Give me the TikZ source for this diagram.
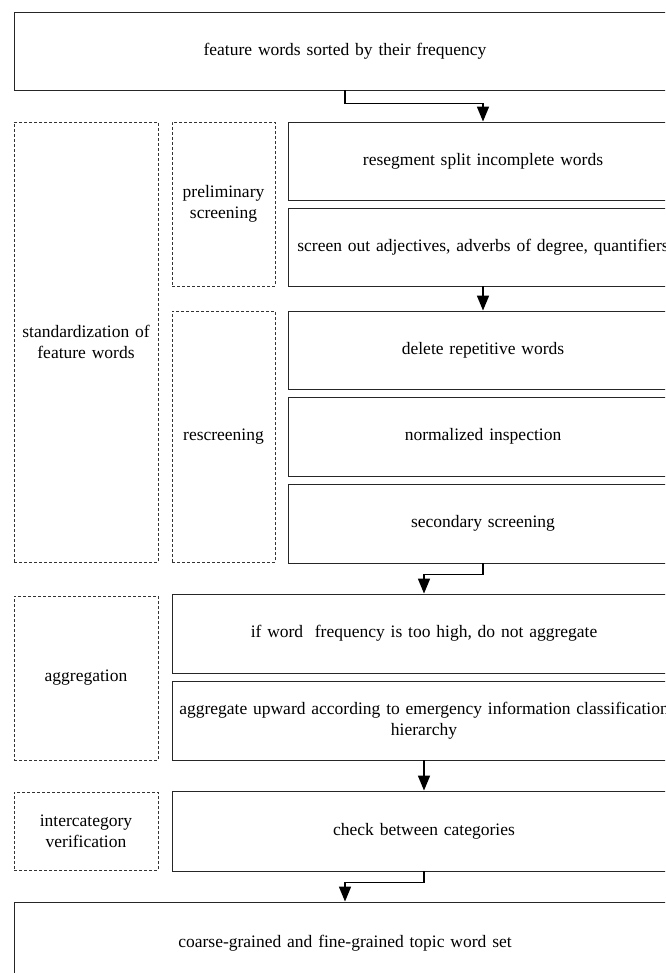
\documentclass[tikz,border=0pt]{standalone}
\usepackage{fontspec}
\setmainfont{Liberation Serif}
\usetikzlibrary{arrows.meta}
\begin{document}
\begin{tikzpicture}[x=1pt,y=-1pt,
  txt/.style={font=\fontsize{17.5}{21}\selectfont, align=center, inner sep=0pt},
  box/.style={txt, draw=black!85, line width=0.9pt, rectangle},
  dbox/.style={txt, draw=black!80, line width=0.8pt, dash pattern=on 3pt off 2pt, rectangle},
  flow/.style={-{Triangle[width=12pt,length=15pt]}, line width=1.6pt, black}
]
\useasboundingbox (0,0) rectangle (665,973);
\clip (0,0) rectangle (665,973);
\fill[white] (0,0) rectangle (665,973);

% main column boxes
\node[box, minimum width=662pt, minimum height=78pt, text width=662pt] (top) at (345,51) {feature words sorted by their frequency};
\node[box, minimum width=390pt, minimum height=78pt, text width=390pt] (r1) at (483,161) {resegment split incomplete words};
\node[box, minimum width=390pt, minimum height=78pt, text width=390pt] (r2) at (483,247) {screen out adjectives, adverbs of degree, quantifiers};
\node[box, minimum width=390pt, minimum height=78pt, text width=390pt] (r3) at (483,350) {delete repetitive words};
\node[box, minimum width=390pt, minimum height=79pt, text width=390pt] (r4) at (483,436.5) {normalized inspection};
\node[box, minimum width=390pt, minimum height=79pt, text width=390pt] (r5) at (483,523.5) {secondary screening};
\node[box, minimum width=504pt, minimum height=79pt, text width=504pt] (a1) at (424,633.5) {if word\ \ frequency is too high, do not aggregate};
\node[box, minimum width=504pt, minimum height=79pt, text width=504pt] (a2) at (424,720.5) {aggregate upward according to emergency information classification\\hierarchy};
\node[box, minimum width=504pt, minimum height=80pt, text width=504pt] (c1) at (424,831) {check between categories};
\node[box, minimum width=662pt, minimum height=82pt, text width=662pt] (bot) at (345,943) {coarse-grained and fine-grained topic word set};

% dashed category boxes
\node[dbox, minimum width=144pt, minimum height=440pt, text width=144pt] (std) at (86,342) {standardization of\\feature words};
\node[dbox, minimum width=103pt, minimum height=164pt, text width=103pt] (pre) at (223.5,204) {preliminary\\screening};
\node[dbox, minimum width=103pt, minimum height=251pt, text width=103pt] (res) at (223.5,436.5) {rescreening};
\node[dbox, minimum width=144pt, minimum height=164pt, text width=144pt] (agg) at (86,678) {aggregation};
\node[dbox, minimum width=144pt, minimum height=78pt, text width=144pt] (ver) at (86,831) {intercategory\\verification};

% connectors
\draw[flow] (top.south) -- ++(0,13) -| (r1.north);
\draw[flow] (r2.south) -- (r3.north);
\draw[flow] (r5.south) -- ++(0,11) -| (a1.north);
\draw[flow] (a2.south) -- (c1.north);
\draw[flow] (c1.south) -- ++(0,11) -| (bot.north);
\end{tikzpicture}
\end{document}
